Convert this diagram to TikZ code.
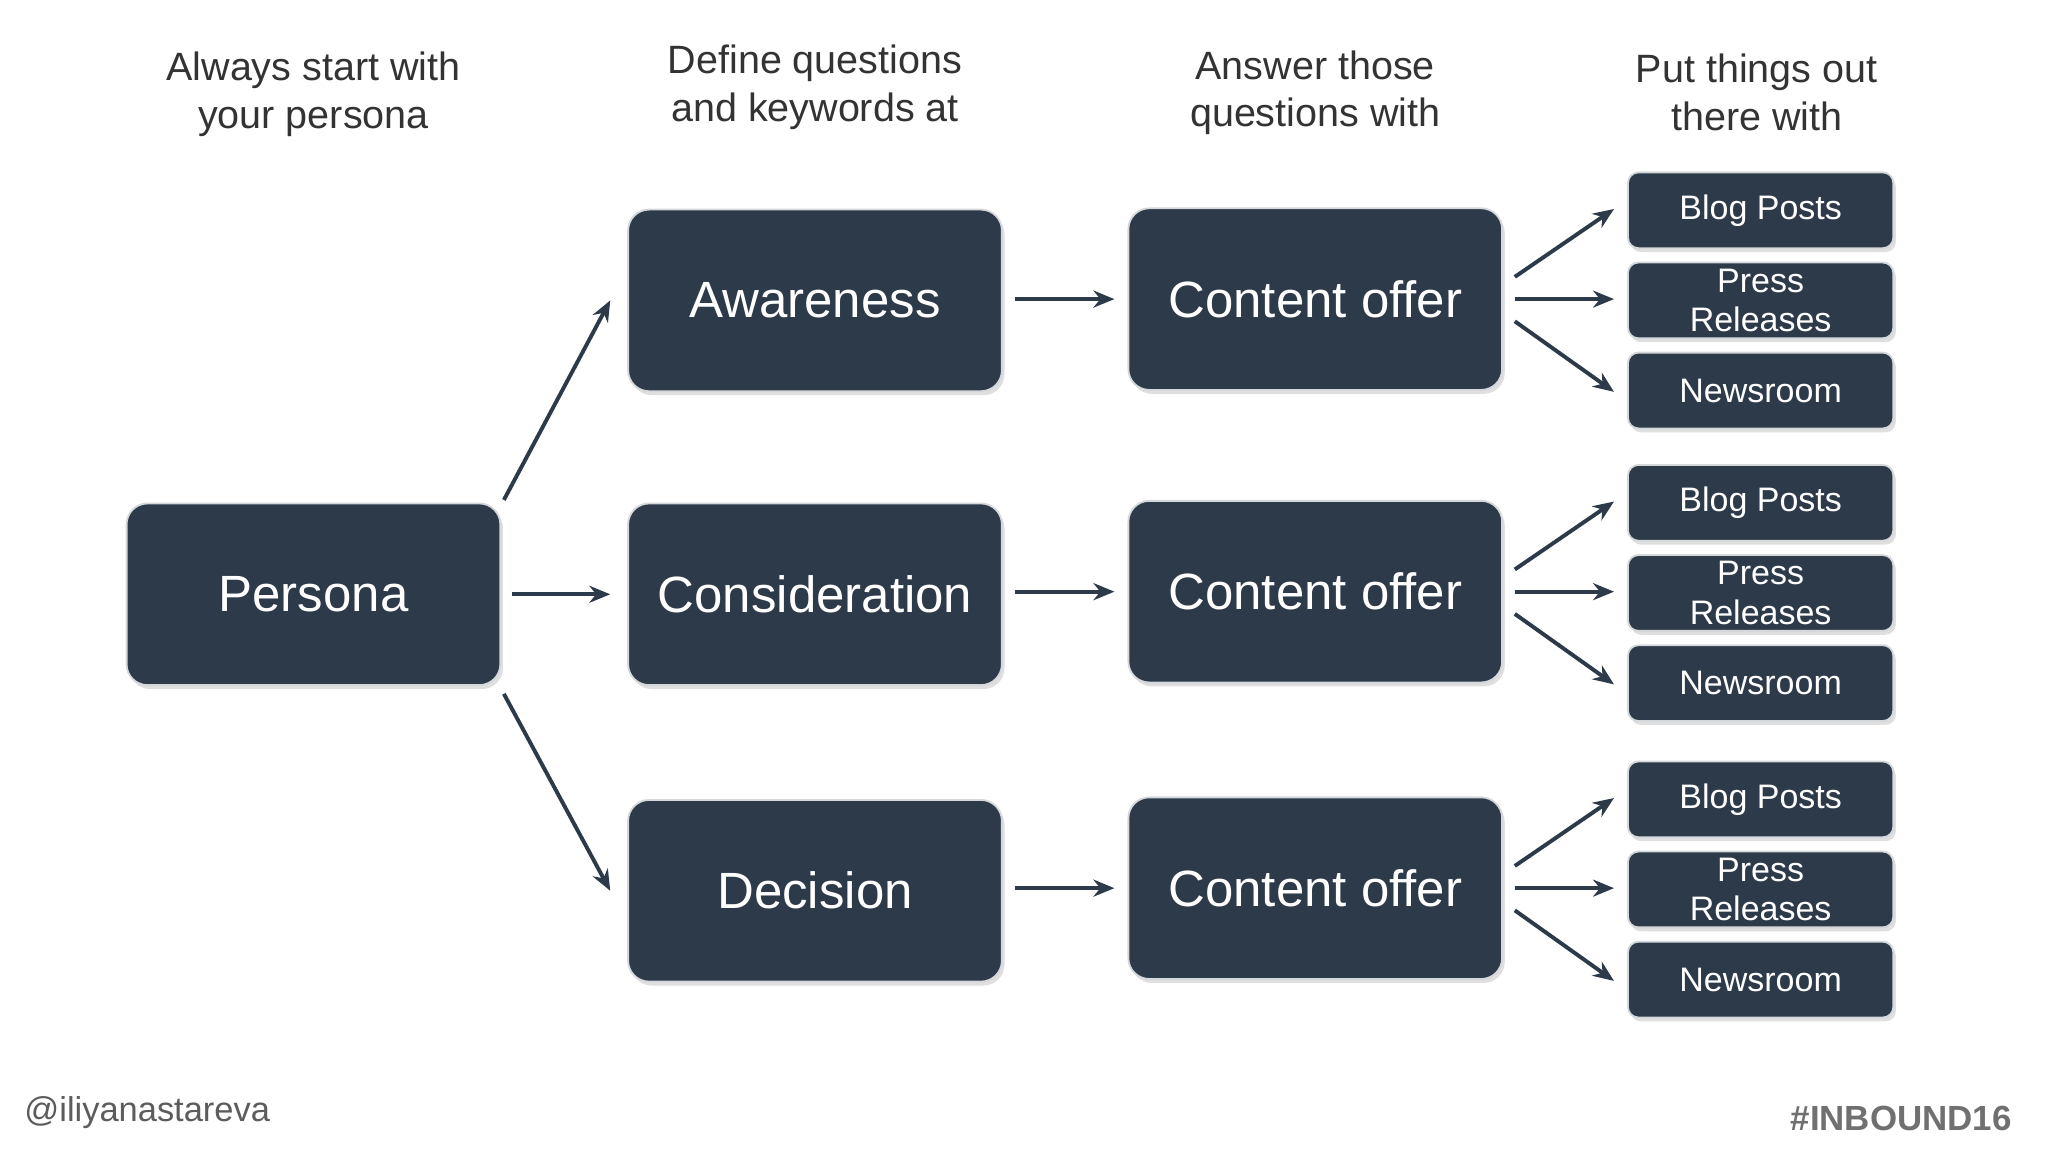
\documentclass[tikz,border=0pt]{standalone}
\usepackage{fontspec}
\setmainfont{Liberation Sans}
\usetikzlibrary{arrows.meta,shadows}
\definecolor{box}{HTML}{2C3A4A}
\definecolor{txt}{HTML}{333333}
\begin{document}
\begin{tikzpicture}[x=0.01cm,y=-0.01cm,
 big/.style={draw=white!80!box,line width=0.4pt,fill=box,rounded corners=0.16cm,minimum width=2.86cm,minimum height=1.39cm,text=white,font=\fontsize{11.1}{13}\selectfont,drop shadow={shadow xshift=0.02cm,shadow yshift=-0.03cm,opacity=0.25}},
 sm/.style={draw=white!80!box,line width=0.4pt,fill=box,rounded corners=0.08cm,minimum width=2.03cm,minimum height=0.58cm,inner sep=0.5pt,text=white,align=center,font=\fontsize{7.4}{8.5}\selectfont,drop shadow={shadow xshift=0.02cm,shadow yshift=-0.03cm,opacity=0.25}},
 hd/.style={text=txt,align=center,font=\fontsize{8.6}{10.4}\selectfont},
 ar/.style={-{Stealth[length=0.16cm,width=0.13cm]},line width=0.85pt,draw=box}]
\useasboundingbox[fill=white] (0,0) rectangle (1568,882);
\node[hd] (h1) at (240,72) {Always start with\\your persona};
\node[hd] (h2) at (624,67) {Define questions\\and keywords at};
\node[hd] (h3) at (1007,71) {Answer those\\questions with};
\node[hd] (h4) at (1345,71) {Put things out\\there with};
\node[big] (p) at (240,455) {Persona};
\node[big] (a1) at (624,230) {Awareness};
\node[big] (a2) at (624,455) {Consideration};
\node[big] (a3) at (624,682) {Decision};
\foreach \i/\y in {1/229,2/453,3/680}{
 \node[big] (c\i) at (1007,\y) {Content offer};
 \node[sm] (b\i) at (1348,\y-68) {Blog Posts};
 \node[sm] (r\i) at (1348,\y+1) {Press\\Releases};
 \node[sm] (n\i) at (1348,\y+70) {Newsroom};
 \draw[ar] ([xshift=0.09cm]c\i.west -| a\i.east) -- ([xshift=-0.1cm]c\i.west);
 \draw[ar] ([xshift=0.09cm,yshift=0.17cm]c\i.east) -- ([xshift=-0.1cm,yshift=0.01cm]b\i.west);
 \draw[ar] ([xshift=0.09cm]c\i.east) -- ([xshift=-0.1cm]c\i.east -| r\i.west);
 \draw[ar] ([xshift=0.09cm,yshift=-0.17cm]c\i.east) -- ([xshift=-0.1cm,yshift=-0.01cm]n\i.west);
}
\draw[ar] ([xshift=0.02cm,yshift=0.02cm]p.north east) -- ([xshift=-0.13cm]a1.west);
\draw[ar] ([xshift=0.08cm]p.east) -- ([xshift=-0.13cm]a2.west);
\draw[ar] ([xshift=0.02cm,yshift=-0.06cm]p.south east) -- ([xshift=-0.13cm]a3.west);
\node[text=txt!80,font=\fontsize{7.5}{9}\selectfont,anchor=west,inner sep=0pt] (f1) at (18,852) {@iliyanastareva};
\node[text=txt!70,font=\bfseries\fontsize{7.6}{9}\selectfont,anchor=east,inner sep=0pt] (f2) at (1541,856) {\#INBOUND16};
\end{tikzpicture}
\end{document}
